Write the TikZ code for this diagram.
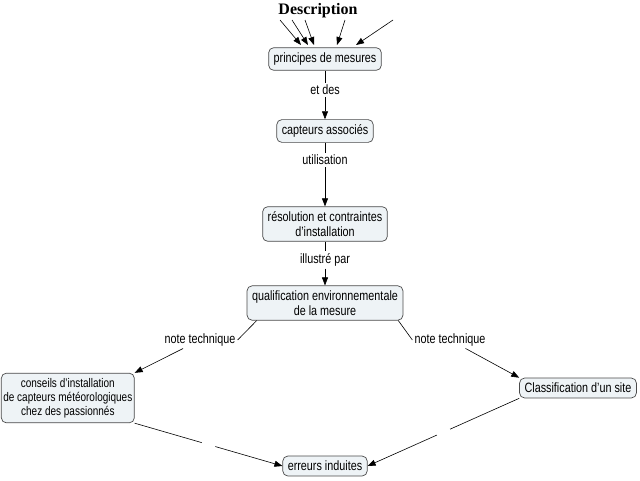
\documentclass[tikz,border=0pt]{standalone}
\usepackage{fontspec}
\setmainfont{Liberation Sans}[FakeStretch=0.8]
\newfontfamily\titlefont{Liberation Serif}
\usetikzlibrary{arrows.meta}
\definecolor{boxfill}{HTML}{EEF3F6}
\definecolor{boxline}{HTML}{4A4A4A}
\tikzset{
  concept/.style={draw=boxline, fill=boxfill, rounded corners=5pt, align=center, font=\fontsize{13.5}{14.5}\selectfont, inner xsep=5pt, inner ysep=5pt, line width=0.7pt},
  lbl/.style={fill=white, font=\fontsize{13.5}{14.5}\selectfont, inner sep=2pt},
  link/.style={line width=0.6pt},
  arr/.style={line width=0.6pt, -{Triangle[length=8pt,width=6pt]}},
  gap/.style={fill=white, inner sep=0pt, minimum width=14pt, minimum height=6pt}
}
\begin{document}
\begin{tikzpicture}[x=1pt,y=-1pt]
\useasboundingbox (0,0) rectangle (640,480);
\node[font=\titlefont\bfseries\fontsize{16}{17}\selectfont] (desc) at (318,11) {Description};
\node[concept] (p) at (325,59) {principes de mesures};
\node[concept] (c) at (325,131) {capteurs associés};
\node[concept] (r) at (325,224) {résolution et contraintes\\d'installation};
\node[concept] (q) at (325,303) {qualification environnementale\\de la mesure};
\node[concept, anchor=west, inner xsep=2pt, font=\fontsize{12.5}{14}\selectfont] (k) at (1,398) {conseils d'installation\\de capteurs météorologiques\\chez des passionnés};
\node[concept] (s) at (578,388) {Classification d'un site};
\node[concept] (e) at (325,466) {erreurs induites};
\node[lbl] (l1) at (325,90) {et des};
\node[lbl] (l2) at (325,160) {utilisation};
\node[lbl] (l3) at (325,260) {illustré par};
\node[lbl] (l4) at (200,340) {note technique};
\node[lbl] (l5) at (450,340) {note technique};
\coordinate (i1) at (280,20);
\coordinate (i2) at (292,20);
\coordinate (i3) at (305,20);
\coordinate (i4) at (345,20);
\coordinate (i5) at (393,20);
\coordinate (t1) at (301,45);
\coordinate (t2) at (308,45);
\coordinate (t3) at (314,45);
\coordinate (t4) at (337,45);
\coordinate (t5) at (356,45);
\foreach \a/\b in {i1/t1,i2/t2,i3/t3,i4/t4,i5/t5} \draw[arr] (\a) -- (\b);
\draw[link] (p) -- (l1); \draw[arr] (l1) -- (c);
\draw[link] (c) -- (l2); \draw[arr] (l2) -- (r);
\draw[link] (r) -- (l3); \draw[arr] (l3) -- (q);
\draw[link] (q.south west) ++(10,0) coordinate (qa) (qa) -- (l4.east);
\draw[arr] (l4) -- (k.north east);
\draw[link] (q.south east) ++(-5,0) coordinate (qb) (qb) -- (l5.west);
\draw[arr] (l5) -- (s.north west);
\draw[arr] (k.south east) -- node[gap, sloped] {} (e.west);
\draw[arr] (s.south west) -- node[gap, sloped] {} (e.east);
\end{tikzpicture}
\end{document}
